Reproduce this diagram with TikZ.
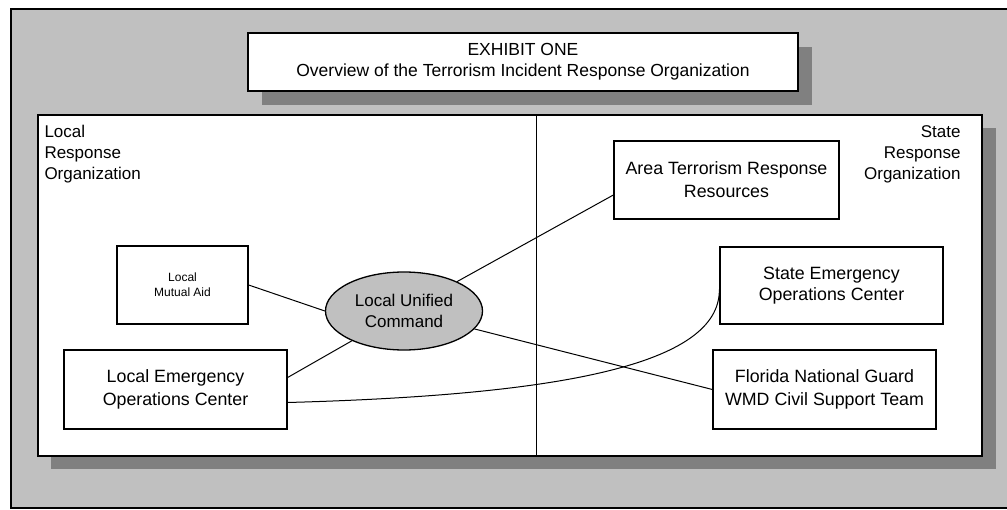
\documentclass[tikz,border=0pt]{standalone}
\usepackage{fontspec}
\setmainfont{Liberation Sans}
\usetikzlibrary{shapes,backgrounds}
\definecolor{panelgray}{HTML}{C0C0C0}
\definecolor{shadegray}{HTML}{808080}

\begin{document}
\begin{tikzpicture}[x=1pt,y=-1pt,line width=1pt,
  box/.style={draw,fill=white,line width=1.3pt,align=center,inner sep=0pt,
    font=\fontsize{17.8}{23}\selectfont},
  orglabel/.style={inner sep=0pt,font=\fontsize{17}{21}\selectfont}]
\useasboundingbox (0,0) rectangle (1007,510);
\draw[fill=panelgray,line width=1.3pt] (11,9) rectangle (1012,508);
\fill[shadegray] (51,128) rectangle (996,469);
\draw[fill=white,line width=1.3pt] (38,115) rectangle (982,456);
\draw (536,115) -- (536,456);
\fill[shadegray] (262,47) rectangle (812,105);
\node[box,minimum width=550,minimum height=58,font=\fontsize{17.5}{21}\selectfont] (title) at (523,62)
  {EXHIBIT ONE\\Overview of the Terrorism Incident Response Organization};
\node[orglabel,anchor=north west,align=left] (localorg) at (44,125) {Local\\Response\\Organization};
\node[orglabel,anchor=north east,align=right] (stateorg) at (961,125) {State\\Response\\Organization};
\node[box,minimum width=131,minimum height=78,font=\fontsize{12}{15}\selectfont] (mutual) at (182.5,285) {Local\\Mutual Aid};
\node[box,minimum width=223,minimum height=79] (leoc) at (175.5,389.5) {Local Emergency\\Operations Center};
\node[draw,ellipse,fill=panelgray,line width=1.3pt,minimum width=157,minimum height=78,inner sep=0pt,
  align=center,font=\fontsize{17}{21}\selectfont] (luc) at (404,311) {Local Unified\\Command};
\node[box,minimum width=225,minimum height=78] (area) at (726.5,180) {Area Terrorism Response\\Resources};
\node[box,minimum width=223,minimum height=77,font=\fontsize{17.8}{21}\selectfont] (seoc) at (831.5,285.5) {State Emergency\\Operations Center};
\node[box,minimum width=223,minimum height=79] (fng) at (824.5,389.5) {Florida National Guard\\WMD Civil Support Team};
\draw (mutual.east) -- (luc.west);
\draw ([yshift=12pt]leoc.east) -- (luc);
\draw (luc) -- ([yshift=-15pt]area.west);
\draw (luc) -- (fng.west);
\draw ([yshift=-13pt]leoc.east) .. controls (560,395) and (720,365) .. ([yshift=-4pt]seoc.west);
\end{tikzpicture}
\end{document}
